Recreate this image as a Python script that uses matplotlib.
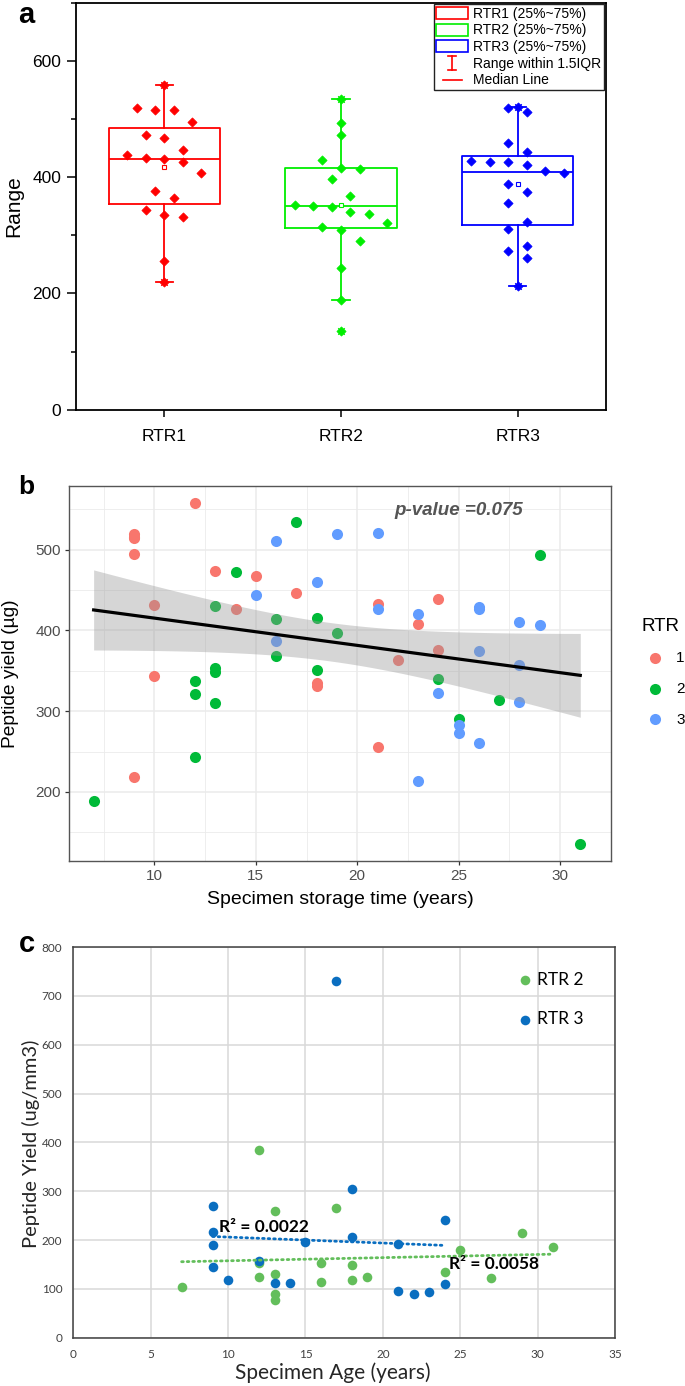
import numpy as np
import matplotlib
matplotlib.use("Agg")
import matplotlib.pyplot as plt
from matplotlib.lines import Line2D
from matplotlib.patches import Rectangle
from matplotlib.legend_handler import HandlerBase

plt.rcParams["font.family"] = ["Liberation Sans", "DejaVu Sans"]

# --- panel a: peptide yield per RTR (box + points) ---
rtr_names = ["RTR1", "RTR2", "RTR3"]
rtr1_vals = [558.7, 518.7, 516.4, 515.8, 495.8, 473.4, 468.3, 447.6, 439.0, 432.7,
             431.5, 425.8, 408.0, 376.0, 364.0, 344.4, 334.6, 331.7, 256.0, 219.0]
rtr2_vals = [535.0, 492.8, 473.4, 430.4, 416.0, 414.3, 397.0, 368.5, 352.4, 351.3,
             348.4, 339.8, 337.0, 320.9, 314.0, 310.0, 290.0, 243.0, 188.5, 135.0]
rtr3_vals = [521.0, 519.8, 511.8, 459.7, 443.5, 428.7, 425.8, 425.8, 421.0, 410.8,
             407.4, 388.0, 375.4, 356.5, 323.8, 311.0, 281.9, 273.3, 260.2, 213.0]

# --- panel b: yield vs storage time ---
b_rtr_labels = ["1", "2", "3"]
b_rtr1_x = [12, 9, 9, 9, 9, 10, 13, 15, 17, 14, 24, 21, 23, 24, 22, 10, 18, 18, 21, 9]
b_rtr1_y = [558, 519, 516, 514, 495, 431, 474, 468, 447, 426, 439, 433, 408, 376, 364,
            344, 335, 331, 256, 219]
b_rtr2_x = [7, 12, 12, 12, 13, 13, 13, 13, 14, 17, 16, 16, 18, 18, 19, 24, 25, 27, 29, 31]
b_rtr2_y = [189, 337, 321, 243, 430, 353, 348, 310, 472, 534, 414, 368, 416, 351, 397,
            340, 290, 314, 493, 136]
b_rtr3_x = [16, 19, 21, 15, 18, 16, 21, 23, 26, 26, 28, 29, 26, 28, 24, 28, 25, 25, 26, 23]
b_rtr3_y = [511, 519, 521, 444, 460, 387, 426, 421, 429, 426, 411, 407, 375, 357, 323,
            311, 283, 273, 260, 213]

# --- panel c: yield per volume vs specimen age ---
c_rtr2_x = [7, 12, 12, 12, 13, 13, 13, 13, 16, 16, 17, 18, 18, 19, 24, 25, 27, 29, 31]
c_rtr2_y = [104, 384, 153, 125, 259, 131, 89, 77, 153, 115, 266, 149, 119, 125, 134,
            179, 123, 215, 186]
c_rtr3_x = [9, 9, 9, 9, 10, 12, 13, 14, 15, 17, 18, 18, 21, 21, 22, 23, 24, 24]
c_rtr3_y = [269, 216, 190, 145, 119, 157, 111, 112, 195, 731, 304, 207, 192, 96, 90,
            93, 240, 110]
c_r2_text = ["R² = 0.0058", "R² = 0.0022"]

W, H = 685, 1386


def rect(l, t, r, b):
    return [l / W, 1 - b / H, (r - l) / W, (b - t) / H]


def box_stats(vals):
    v = np.asarray(vals, dtype=float)
    q1, med, q3 = np.percentile(v, [25, 50, 75], method="midpoint")
    iqr = q3 - q1
    return dict(med=med, q1=q1, q3=q3, mean=v.mean(),
                whislo=v[v >= q1 - 1.5 * iqr].min(),
                whishi=v[v <= q3 + 1.5 * iqr].max(), fliers=[])


def swarm_offsets(vals, bin_width=40.0, step=0.105):
    v = np.asarray(vals, dtype=float)
    bins = np.floor(v / bin_width).astype(int)
    offs = np.zeros(len(v))
    for b in np.unique(bins):
        idx = np.where(bins == b)[0]
        offs[idx] = (np.arange(len(idx)) - (len(idx) - 1) / 2) * step
    return offs


class IBeam:
    pass


class ShortLine:
    pass


class HandlerIBeam(HandlerBase):
    def create_artists(self, legend, orig_handle, xd, yd, w, h, fs, trans):
        cx = -xd + w / 2
        y0, y1 = -yd - 0.05 * h, -yd + 1.05 * h
        cw = 0.12 * w
        arts = [Line2D([cx, cx], [y0, y1]), Line2D([cx - cw, cx + cw], [y0, y0]),
                Line2D([cx - cw, cx + cw], [y1, y1])]
        for a in arts:
            a.set_color("red")
            a.set_linewidth(1.2)
            a.set_transform(trans)
        return arts


class HandlerShortLine(HandlerBase):
    def create_artists(self, legend, orig_handle, xd, yd, w, h, fs, trans):
        y = -yd + h / 2
        ln = Line2D([-xd + 0.2 * w, -xd + 0.82 * w], [y, y], color="red", lw=1.2)
        ln.set_transform(trans)
        return [ln]


fig = plt.figure(figsize=(W / 100, H / 100), dpi=100)

# ---------------- panel a ----------------
ax_a = fig.add_axes(rect(76, 3, 606, 409.6))
a_colors = ["#FF0000", "#00EE00", "#0000FF"]
groups = [rtr1_vals, rtr2_vals, rtr3_vals]
for i, (vals, col) in enumerate(zip(groups, a_colors), start=1):
    st = box_stats(vals)
    lp = dict(color=col, lw=1.3)
    ax_a.bxp([st], positions=[i], widths=0.63, capwidths=0.1, showmeans=True,
             showfliers=False, manage_ticks=False,
             boxprops=lp, whiskerprops=lp, capprops=lp, medianprops=lp,
             meanprops=dict(marker="s", markersize=3.2, markerfacecolor="white",
                            markeredgecolor=col, markeredgewidth=0.8))
    ax_a.scatter([i, i], [min(vals), max(vals)], marker="x", s=22, color=col,
                 lw=0.9, zorder=3)
    ax_a.scatter(i + swarm_offsets(vals), vals, marker="D", s=22, color=col,
                 lw=0.5, edgecolors=col, zorder=4)

ax_a.set_xlim(0.5, 3.5)
ax_a.set_ylim(0, 700)
ax_a.set_xticks([1, 2, 3], rtr_names)
ax_a.set_yticks([0, 200, 400, 600])
ax_a.set_yticks([100, 300, 500, 700], minor=True)
ax_a.tick_params(axis="both", which="major", labelsize=12.5, width=1.1, direction="out")
ax_a.tick_params(axis="y", which="major", length=6.5, pad=4)
ax_a.tick_params(axis="y", which="minor", length=3.5, width=1.1)
ax_a.tick_params(axis="x", which="major", length=5, pad=9)
for sp in ax_a.spines.values():
    sp.set_linewidth(1.3)
ax_a.set_ylabel("Range", fontsize=15, va="center")
ax_a.yaxis.set_label_coords(-0.117, 0.5)

a_handles = [Rectangle((0, 0), 1, 1, facecolor="white", edgecolor=c, lw=1.2)
             for c in a_colors] + [IBeam(), ShortLine()]
a_labels = [f"{n} (25%~75%)" for n in rtr_names] + ["Range within 1.5IQR", "Median Line"]
leg_a = ax_a.legend(a_handles, a_labels, loc="upper right",
                    bbox_to_anchor=((604 - 76) / 530, (409.6 - 4) / 406.6),
                    fontsize=10, handlelength=2.25, handleheight=0.95,
                    handletextpad=0.4, labelspacing=0.19, borderpad=0.2,
                    borderaxespad=0, fancybox=False, framealpha=1,
                    handler_map={IBeam: HandlerIBeam(), ShortLine: HandlerShortLine()})
leg_a.get_frame().set_edgecolor("#222222")
leg_a.get_frame().set_linewidth(1.0)

# ---------------- panel b ----------------
ax_b = fig.add_axes(rect(69.3, 486, 610.7, 861))
b_colors = ["#F8766D", "#00BA38", "#619CFF"]
b_xs = [b_rtr1_x, b_rtr2_x, b_rtr3_x]
b_ys = [b_rtr1_y, b_rtr2_y, b_rtr3_y]
b_handles = []
for xs, ys, col in zip(b_xs, b_ys, b_colors):
    b_handles.append(ax_b.scatter(xs, ys, s=64, color=col, lw=0, zorder=3))

all_x = np.concatenate([np.asarray(x, float) for x in b_xs])
all_y = np.concatenate([np.asarray(y, float) for y in b_ys])
slope, icpt = np.polyfit(all_x, all_y, 1)
n = len(all_x)
resid = all_y - (slope * all_x + icpt)
s_err = np.sqrt(np.sum(resid ** 2) / (n - 2))
sxx = np.sum((all_x - all_x.mean()) ** 2)
grid_x = np.linspace(all_x.min(), all_x.max(), 100)
fit_y = slope * grid_x + icpt
half = 2.0025 * s_err * np.sqrt(1 / n + (grid_x - all_x.mean()) ** 2 / sxx)
ax_b.fill_between(grid_x, fit_y - half, fit_y + half, color="#999999", alpha=0.4,
                  lw=0, zorder=4)
ax_b.plot(grid_x, fit_y, color="black", lw=2.3, zorder=5)

ax_b.set_xlim(5.8, 32.2)
ax_b.set_ylim(114.4, 579)
ax_b.set_xticks([10, 15, 20, 25, 30])
ax_b.set_xticks([7.5, 12.5, 17.5, 22.5, 27.5, 32.5], minor=True)
ax_b.set_yticks([200, 300, 400, 500])
ax_b.set_yticks([150, 250, 350, 450, 550], minor=True)
ax_b.grid(which="major", color="#EBEBEB", lw=1.1, zorder=0)
ax_b.grid(which="minor", color="#EBEBEB", lw=0.6, zorder=0)
ax_b.set_axisbelow(True)
ax_b.tick_params(which="major", length=3, width=0.9, color="#333333",
                 labelsize=11, labelcolor="#4D4D4D", pad=3)
ax_b.tick_params(which="minor", length=0)
for sp in ax_b.spines.values():
    sp.set_color("#555555")
    sp.set_linewidth(1.0)
ax_b.text(25, 548.5, "p-value =0.075", ha="center", va="center", fontsize=13.5,
          fontweight="bold", fontstyle="italic", color="#555555")
ax_b.set_ylabel("Peptide yield (µg)", fontsize=13.8, va="center")
ax_b.yaxis.set_label_coords(-0.108, 0.5)
ax_b.set_xlabel("Specimen storage time (years)", fontsize=14, va="center")
ax_b.xaxis.set_label_coords(0.5, -0.104)
ax_b.legend(b_handles, b_rtr_labels, title="RTR", loc="upper left",
            bbox_to_anchor=(641.7 / W, 1 - 618 / H), bbox_transform=fig.transFigure,
            frameon=False, fontsize=11, title_fontsize=13.5, alignment="left",
            handlelength=1.8, handletextpad=0.45, labelspacing=1.08,
            borderpad=0, borderaxespad=0)

# ---------------- panel c ----------------
ax_c = fig.add_axes(rect(73.3, 947, 615, 1337.7))
c_green, c_blue = "#63BE5B", "#0A6EC0"
h2 = ax_c.scatter(c_rtr2_x, c_rtr2_y, s=48, color=c_green, lw=0, zorder=3)
h3 = ax_c.scatter(c_rtr3_x, c_rtr3_y, s=48, color=c_blue, lw=0, zorder=3)
for xs, ys, col in [(c_rtr2_x, c_rtr2_y, c_green), (c_rtr3_x, c_rtr3_y, c_blue)]:
    xs = np.asarray(xs, float)
    k, b0 = np.polyfit(xs, np.asarray(ys, float), 1)
    tx = np.array([xs.min(), xs.max()])
    ax_c.plot(tx, k * tx + b0, color=col, lw=2.0, ls=(0, (0.6, 1.4)),
              dash_capstyle="round", zorder=4)
ax_c.text(24.27, 150.3, c_r2_text[0], fontsize=12.5, fontweight="bold",
          family="Lato", va="center", ha="left", zorder=5)
ax_c.text(9.43, 226, c_r2_text[1], fontsize=12.5, fontweight="bold",
          family="Lato", va="center", ha="left", zorder=5)

ax_c.set_xlim(0, 35)
ax_c.set_ylim(0, 800)
ax_c.set_xticks(range(0, 36, 5))
ax_c.set_yticks(range(0, 801, 100))
ax_c.grid(color="#D9D9D9", lw=1.1, zorder=0)
ax_c.set_axisbelow(True)
ax_c.tick_params(length=0, labelsize=8.5, labelcolor="#404040", labelfontfamily="Lato")
ax_c.tick_params(axis="x", pad=8)
ax_c.tick_params(axis="y", pad=8)
for sp in ax_c.spines.values():
    sp.set_color("#404040")
    sp.set_linewidth(1.1)
ax_c.set_ylabel("Peptide Yield (ug/mm3)", fontsize=14.5, family="Lato", va="center",
                color="#262626")
ax_c.yaxis.set_label_coords(-0.078, 0.496)
ax_c.set_xlabel("Specimen Age (years)", fontsize=15, family="Lato", va="center",
                color="#262626")
ax_c.xaxis.set_label_coords(0.479, -0.090)
ax_c.legend([h2, h3], ["RTR 2", "RTR 3"], loc="upper left",
            bbox_to_anchor=(0.821, 0.936), frameon=False,
            prop=dict(family="Lato", size=12.5), handlelength=0.8,
            handletextpad=0.3, labelspacing=1.35, borderpad=0, borderaxespad=0)

# panel letters
for letter, x, y, fs in [("a", 26, 15, 21), ("b", 26.6, 487.5, 19), ("c", 26.6, 944, 21)]:
    fig.text(x / W, 1 - y / H, letter, fontsize=fs, fontweight="bold",
             ha="center", va="center")

fig.savefig("out.png", dpi=100)
